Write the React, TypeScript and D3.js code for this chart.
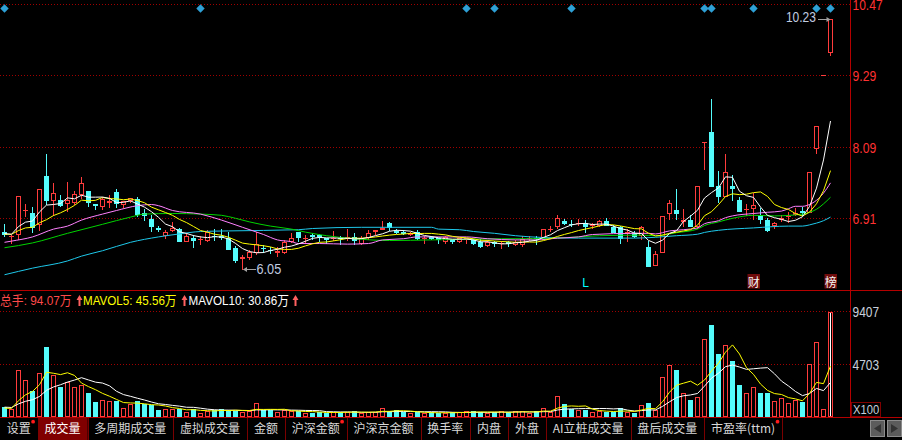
import React, { useEffect } from 'react';
import * as d3 from 'd3';

// ---------- data ----------
const opens = [
  6.69, 6.60, 6.63, 7.03, 7.00, 6.80, 7.62, 7.20, 7.22, 7.15,
  7.17, 7.30, 7.37, 7.15, 7.10, 7.17, 7.34, 7.13, 7.20, 7.23,
  6.99, 6.90, 6.75, 6.62, 6.70, 6.74, 6.52, 6.59, 6.55, 6.53,
  6.62, 6.61, 6.59, 6.42, 6.24, 6.25, 6.33, 6.42, 6.38, 6.34,
  6.33, 6.52, 6.68, 6.58, 6.64, 6.64, 6.58, 6.57, 6.59, 6.58,
  6.60, 6.49, 6.59, 6.68, 6.72, 6.84, 6.70, 6.69, 6.63, 6.68,
  6.57, 6.60, 6.58, 6.52, 6.55, 6.51, 6.57, 6.55, 6.52, 6.45,
  6.52, 6.49, 6.52, 6.47, 6.47, 6.57, 6.58, 6.59, 6.73, 6.77,
  6.87, 6.82, 6.82, 6.84, 6.78, 6.78, 6.87, 6.77, 6.77, 6.65,
  6.66, 6.62, 6.44, 6.12, 6.33, 6.98, 7.05, 6.85, 6.89, 6.77,
  8.18, 8.35, 7.45, 7.27, 7.45, 7.22, 7.05, 7.07, 6.97, 6.89,
  6.78, 6.88, 6.93, 6.97, 7.03, 6.99, 8.06, 9.30, 9.67,
];
const highs = [
  6.82, 6.63, 7.28, 7.15, 7.10, 7.40, 7.98, 7.50, 7.30, 7.52,
  7.37, 7.60, 7.37, 7.15, 7.27, 7.30, 7.40, 7.20, 7.25, 7.26,
  7.06, 6.97, 6.79, 6.72, 6.85, 6.75, 6.66, 6.63, 6.62, 6.72,
  6.74, 6.74, 6.69, 6.45, 6.30, 6.39, 6.69, 6.46, 6.44, 6.44,
  6.55, 6.66, 6.69, 6.63, 6.66, 6.65, 6.59, 6.70, 6.62, 6.73,
  6.66, 6.62, 6.72, 6.72, 6.87, 6.85, 6.74, 6.72, 6.69, 6.72,
  6.62, 6.61, 6.59, 6.61, 6.56, 6.59, 6.59, 6.57, 6.56, 6.55,
  6.54, 6.54, 6.54, 6.55, 6.62, 6.62, 6.62, 6.74, 6.78, 6.97,
  6.90, 6.88, 6.90, 6.88, 6.83, 6.88, 6.92, 6.80, 6.78, 6.73,
  6.70, 6.79, 6.53, 6.37, 6.95, 7.21, 7.39, 7.06, 6.97, 7.44,
  8.18, 8.90, 7.70, 7.98, 7.63, 7.27, 7.14, 7.33, 7.08, 6.91,
  6.85, 6.97, 7.02, 7.08, 7.09, 7.68, 8.45, 9.30, 10.23,
];
const lows = [
  6.60, 6.50, 6.55, 6.94, 6.67, 6.70, 7.13, 6.94, 7.10, 7.02,
  7.13, 7.23, 7.10, 7.05, 7.05, 7.08, 7.08, 7.08, 7.17, 6.93,
  6.87, 6.69, 6.69, 6.57, 6.69, 6.51, 6.51, 6.42, 6.49, 6.51,
  6.55, 6.55, 6.38, 6.16, 6.05, 6.22, 6.30, 6.35, 6.33, 6.27,
  6.32, 6.50, 6.52, 6.52, 6.55, 6.52, 6.49, 6.55, 6.49, 6.55,
  6.47, 6.47, 6.55, 6.64, 6.71, 6.70, 6.65, 6.64, 6.62, 6.55,
  6.50, 6.55, 6.49, 6.48, 6.48, 6.50, 6.50, 6.47, 6.42, 6.43,
  6.43, 6.41, 6.44, 6.45, 6.44, 6.55, 6.49, 6.56, 6.70, 6.74,
  6.80, 6.79, 6.80, 6.66, 6.73, 6.77, 6.78, 6.66, 6.49, 6.52,
  6.59, 6.55, 6.10, 6.12, 6.33, 6.88, 6.89, 6.77, 6.76, 6.74,
  7.73, 7.43, 7.17, 7.26, 7.19, 7.01, 6.97, 6.88, 6.82, 6.69,
  6.73, 6.85, 6.85, 6.94, 6.94, 6.99, 7.98, 9.30, 9.61,
];
const closes = [
  6.63, 6.62, 7.28, 7.04, 6.75, 7.39, 7.19, 7.33, 7.12, 7.22,
  7.31, 7.49, 7.17, 7.12, 7.23, 7.20, 7.14, 7.19, 7.24, 6.97,
  6.94, 6.76, 6.72, 6.68, 6.75, 6.52, 6.62, 6.54, 6.57, 6.69,
  6.60, 6.59, 6.38, 6.20, 6.26, 6.35, 6.49, 6.40, 6.37, 6.36,
  6.52, 6.59, 6.58, 6.59, 6.60, 6.60, 6.55, 6.58, 6.56, 6.60,
  6.54, 6.58, 6.67, 6.72, 6.75, 6.75, 6.66, 6.65, 6.67, 6.56,
  6.58, 6.57, 6.55, 6.60, 6.51, 6.58, 6.58, 6.48, 6.44, 6.52,
  6.48, 6.50, 6.49, 6.52, 6.56, 6.58, 6.57, 6.73, 6.74, 6.91,
  6.82, 6.80, 6.83, 6.77, 6.81, 6.86, 6.79, 6.67, 6.56, 6.69,
  6.60, 6.76, 6.10, 6.32, 6.95, 7.16, 6.98, 6.88, 6.76, 7.44,
  8.18, 7.43, 7.27, 7.68, 7.40, 7.02, 7.06, 7.13, 6.88, 6.70,
  6.83, 6.92, 6.95, 6.99, 6.99, 7.68, 8.45, 9.30, 10.23,
];
// volume in units of 100 hands
const volumes = [
  912, 706, 4194, 3300, 2316, 3899, 6277, 3747, 2700, 3148,
  2700, 2852, 2164, 1332, 1511, 1422, 1422, 769, 1153, 1422,
  1127, 1037, 617, 706, 706, 733, 438, 706, 376, 554,
  617, 706, 617, 554, 465, 554, 1216, 590, 590, 438,
  617, 527, 500, 376, 376, 438, 349, 465, 411, 465,
  500, 322, 465, 465, 769, 500, 590, 465, 322, 438,
  322, 411, 376, 376, 411, 411, 500, 527, 411, 376,
  411, 500, 411, 500, 500, 376, 500, 769, 465, 1842,
  1153, 706, 617, 617, 411, 527, 438, 465, 769, 465,
  349, 1064, 1216, 617, 3541, 4641, 4194, 2110, 1511, 1753,
  6939, 8218, 5624, 6429, 4999, 2852, 2110, 2647, 2110, 2150,
  1450, 1700, 1250, 1535, 1305, 4700, 6660, 706, 9407,
];
// sessions just before the visible window (estimated from the starting MA levels)
const priorCloses = [6.62, 6.66, 6.60, 6.65, 6.63, 6.68, 6.64, 6.67, 6.66];
const priorVolumes = [1000, 950, 1050, 900, 950, 800, 760, 700, 780];

// longer moving averages: [bar index, price]
const ma20Points: [number, number][] = [
  [0, 6.51], [1, 6.53], [4, 6.60], [7, 6.73], [9, 6.78], [11, 6.88], [14, 6.98], [16, 7.04],
  [19, 7.12], [21, 7.14], [22, 7.12], [24, 7.04], [28, 6.98], [31, 6.88], [34, 6.76], [37, 6.64],
  [39, 6.55], [41, 6.52], [42, 6.49], [45, 6.49], [49, 6.48], [52, 6.49], [54, 6.55], [57, 6.57],
  [59, 6.60], [63, 6.60], [66, 6.60], [69, 6.57], [73, 6.55], [76, 6.55], [79, 6.58], [82, 6.60],
  [84, 6.64], [90, 6.66], [92, 6.66], [93, 6.65], [95, 6.70], [97, 6.72], [99, 6.75], [100, 6.82],
  [102, 6.87], [103, 6.92], [104, 6.95], [107, 6.99], [109, 7.01], [111, 7.03], [112, 7.07],
  [113, 7.11], [114, 7.11], [115, 7.14], [116, 7.21], [117, 7.33], [118, 7.50],
];
const ma30Points: [number, number][] = [
  [0, 6.42], [4, 6.50], [9, 6.66], [14, 6.81], [18, 6.93], [20, 6.98], [24, 6.99], [28, 6.98],
  [31, 6.96], [33, 6.91], [35, 6.85], [38, 6.78], [41, 6.73], [43, 6.68], [46, 6.62], [50, 6.57],
  [55, 6.54], [61, 6.55], [66, 6.56], [71, 6.57], [75, 6.57], [82, 6.60], [85, 6.62], [91, 6.63],
  [93, 6.62], [96, 6.67], [99, 6.73], [100, 6.79], [102, 6.85], [104, 6.91], [107, 6.96],
  [110, 6.95], [114, 6.98], [115, 7.01], [116, 7.06], [117, 7.15], [118, 7.26],
];
const ma60Points: [number, number][] = [
  [0, 5.97], [4, 6.08], [9, 6.20], [11, 6.28], [14, 6.37], [18, 6.51], [22, 6.60], [25, 6.65],
  [28, 6.69], [32, 6.70], [42, 6.72], [44, 6.74], [51, 6.76], [61, 6.76], [62, 6.73], [65, 6.72],
  [67, 6.69], [70, 6.66], [73, 6.62], [77, 6.59], [82, 6.58], [90, 6.58], [96, 6.62], [99, 6.645],
  [100, 6.675], [102, 6.71], [107, 6.75], [112, 6.78], [114, 6.78], [115, 6.80], [116, 6.83],
  [117, 6.87], [118, 6.93],
];

const eventBars = [0, 28, 66, 70, 81, 100, 101, 107, 116, 118];
const priceTicks = [10.47, 9.29, 8.09, 6.91];
const volTicks = [9407, 4703];
const volUnit = 'X100';
const lowNote = { bar: 34, text: '6.05' };
const highNote = { bar: 118, text: '10.23' };
const barMarks = [
  { bar: 83, text: 'L', boxed: false },
  { bar: 107, text: '财', boxed: true },
  { bar: 118, text: '榜', boxed: true },
];
const volTitle = [
  { text: '总手: 94.07万', color: '#ff4a4a' },
  { text: 'MAVOL5: 45.56万', color: '#ffff00' },
  { text: 'MAVOL10: 30.86万', color: '#ffffff' },
];
const tabLabels = ['设置', '成交量', '多周期成交量', '虚拟成交量', '金额', '沪深金额', '沪深京金额', '换手率', '内盘', '外盘', 'AI立桩成交量', '盘后成交量', '市盈率(ttm)'];
const tabDots = ['设置', '沪深金额', '市盈率(ttm)'];
const selectedTab = '成交量';

// ---------- styling ----------
const RED = '#ff3c3c';
const CYAN = '#54fcfc';
const AXIS = '#b40000';
const GRID = '#a00000';
const NUM_FONT = "'Liberation Sans Narrow', 'Liberation Sans', Arial, sans-serif";
const CJK_FONT = "'Noto Sans CJK SC', sans-serif";

function numLen(s: string) {
  let w = 0;
  for (const ch of s) w += /[0-9]/.test(ch) ? 6.4 : ch === '.' ? 4.5 : 7;
  return w;
}

let measureCtx: any = null;
function measure(s: string, font: string) {
  if (!measureCtx) measureCtx = document.createElement('canvas').getContext('2d');
  measureCtx.font = font;
  return measureCtx.measureText(s).width;
}

function movingAvg(values: number[], prior: number[], n: number) {
  const all = prior.concat(values);
  return values.map((_, i) => d3.mean(all.slice(prior.length + i - n + 1, prior.length + i + 1)) as number);
}

function isUp(i: number) {
  const o = opens[i], c = closes[i];
  const prev = i > 0 ? closes[i - 1] : priorCloses[priorCloses.length - 1];
  return c > o || (c === o && c >= prev);
}

export default function App() {
  useEffect(() => {
    document.body.style.margin = '0';
    document.body.style.background = '#000';
  }, []);

  const N = closes.length;
  const x = d3.scaleBand<number>().domain(d3.range(N)).range([1.3, 834.3]).paddingInner(2 / 7).paddingOuter(1 / 7);
  const left = (i: number) => Math.round(x(i) as number);
  const cxOf = (i: number) => left(i) + 2.5;
  const yP = d3.scaleLinear().domain([6.91, 10.47]).range([218.3, 4.5]);
  const yV = d3.scaleLinear().domain([0, 9407]).range([417, 311.7]);

  const ma5 = movingAvg(closes, priorCloses, 5);
  const ma10 = movingAvg(closes, priorCloses, 10);
  const mv5 = movingAvg(volumes, priorVolumes, 5);
  const mv10 = movingAvg(volumes, priorVolumes, 10);

  const seriesLine = d3.line<number>().x((_, i) => cxOf(i)).y(d => yP(d));
  const volLine = d3.line<number>().x((_, i) => cxOf(i)).y(d => yV(d));
  const knotLine = d3.line<[number, number]>().x(d => cxOf(d[0])).y(d => yP(d[1])).curve(d3.curveMonotoneX);

  // candles
  const candles = closes.map((c, i) => {
    const o = opens[i], h = highs[i], l = lows[i];
    const col = isUp(i) ? RED : CYAN;
    const L = left(i), X = L + 2.5;
    const yo = Math.round(yP(o)), yc = Math.round(yP(c));
    const yh = Math.round(yP(h)), yl = Math.round(yP(l));
    const top = Math.min(yo, yc), bot = Math.max(yo, yc);
    if (bot - top < 2) {
      return (
        <g key={i}>
          {yl > yh && <line x1={X} x2={X} y1={yh} y2={yl + 1} stroke={col} />}
          <line x1={L} x2={L + 5} y1={top + 0.5} y2={top + 0.5} stroke={col} />
        </g>
      );
    }
    if (isUp(i)) {
      return (
        <g key={i}>
          {top > yh && <line x1={X} x2={X} y1={yh} y2={top} stroke={col} />}
          {yl > bot && <line x1={X} x2={X} y1={bot} y2={yl} stroke={col} />}
          <rect x={L + 0.5} y={top + 0.5} width={4} height={bot - top - 1} fill="#000" stroke={col} />
        </g>
      );
    }
    return (
      <g key={i}>
        <line x1={X} x2={X} y1={yh} y2={yl} stroke={col} />
        <rect x={L} y={top} width={5} height={bot - top} fill={col} />
      </g>
    );
  });

  // volume bars
  const vbars = volumes.map((v, i) => {
    const L = left(i);
    const top = Math.round(yV(v));
    if (isUp(i)) {
      return <rect key={i} x={L + 0.5} y={top + 0.5} width={4} height={Math.max(0, 417 - top - 1)} fill="#000" stroke={RED} />;
    }
    return <rect key={i} x={L} y={top} width={5} height={417 - top} fill={CYAN} />;
  });
  const lastI = N - 1;

  // tabs layout
  const tabFont = `12px ${CJK_FONT}`;
  let pos = 0;
  const tabs = tabLabels.map(label => {
    const w = measure(label, tabFont) + 13.8;
    const cell = { label, x0: pos, x1: pos + w };
    pos += w;
    return cell;
  });

  // notes
  const lowX = cxOf(lowNote.bar), lowY = yP(lows[lowNote.bar]);
  const highX = cxOf(highNote.bar), highY = Math.round(yP(highs[highNote.bar])) + 0.5;

  // title layout
  const titleStarts = [0, 83, 188.5];
  const titleLens = [71.7, 93.5, 100.5];
  const arrowXs = [79.5, 184.5, 295.5];

  return (
    <svg width={902} height={440} style={{ position: 'absolute', left: 0, top: 0, display: 'block', background: '#000' }}>
      <rect x={0} y={0} width={902} height={440} fill="#000" />

      {/* price grid */}
      {priceTicks.map(t => {
        const gy = Math.floor(yP(t)) + 0.5;
        return (
          <g key={t}>
            <line x1={0} x2={850} y1={gy} y2={gy} stroke={GRID} strokeDasharray="1 2" />
            <text x={852.5} y={gy + 5.2} fill="#ff3232" fontFamily={NUM_FONT} fontSize={14}
              textLength={numLen(t.toFixed(2))} lengthAdjust="spacingAndGlyphs">{t.toFixed(2)}</text>
          </g>
        );
      })}

      {/* event diamonds */}
      {eventBars.map(b => {
        const c = cxOf(b);
        return <path key={b} d={`M${c},4.3 L${c + 4.2},8.5 L${c},12.7 L${c - 4.2},8.5 Z`} fill="#2ea0d6" />;
      })}

      {/* candles */}
      <g shapeRendering="crispEdges">{candles}</g>

      {/* moving averages */}
      <path d={knotLine(ma60Points) || ''} fill="none" stroke="#1ec8ea" strokeWidth={1} />
      <path d={knotLine(ma30Points) || ''} fill="none" stroke="#00d400" strokeWidth={1} />
      <path d={knotLine(ma20Points) || ''} fill="none" stroke="#ff80ff" strokeWidth={1} />
      <path d={seriesLine(ma10) || ''} fill="none" stroke="#ffff00" strokeWidth={1} />
      <path d={seriesLine(ma5) || ''} fill="none" stroke="#ffffff" strokeWidth={1} />

      {/* low / high notes */}
      <line x1={256} x2={lowX + 1} y1={Math.round(lowY) - 0.5} y2={Math.round(lowY) - 0.5} stroke="#a0a0a0" />
      <path d={`M${lowX + 0.5},${Math.round(lowY) - 0.5} l4,-2.5 l0,5 Z`} fill="#a0a0a0" />
      <text x={256.5} y={274} fill="#c0cce0" fontFamily={NUM_FONT} fontSize={15}
        textLength={numLen(lowNote.text) + 1} lengthAdjust="spacingAndGlyphs">{lowNote.text}</text>
      <line x1={818} x2={highX - 1} y1={highY} y2={highY} stroke="#a0a0a0" />
      <path d={`M${highX},${highY} l-4,-2.5 l0,5 Z`} fill="#a0a0a0" />
      <text x={816} y={21.7} textAnchor="end" fill="#c0cce0" fontFamily={NUM_FONT} fontSize={14}
        textLength={numLen(highNote.text)} lengthAdjust="spacingAndGlyphs">{highNote.text}</text>

      {/* bar marks */}
      {barMarks.map(m => {
        const c = cxOf(m.bar);
        if (!m.boxed) {
          return <text key={m.text} x={c} y={287} textAnchor="middle" fill="#00ffff" fontFamily="'Liberation Sans', Arial, sans-serif" fontSize={12}>{m.text}</text>;
        }
        return (
          <g key={m.text}>
            <rect x={c - 6} y={274} width={12.5} height={14.5} fill="#700c0c" />
            <text x={c + 0.2} y={286.5} textAnchor="middle" fill="#f4f4f4" fontFamily={CJK_FONT} fontSize={12}>{m.text}</text>
          </g>
        );
      })}

      {/* frame lines */}
      <line x1={0} x2={902} y1={290.5} y2={290.5} stroke={AXIS} />
      <line x1={850.5} x2={850.5} y1={0} y2={417} stroke={AXIS} />

      {/* volume panel title */}
      {volTitle.map((t, k) => (
        <text key={k} x={titleStarts[k]} y={305} fill={t.color} fontFamily={`'Liberation Sans', ${CJK_FONT}`} fontSize={13}
          textLength={titleLens[k]} lengthAdjust="spacingAndGlyphs">{t.text}</text>
      ))}
      {arrowXs.map(ax => (
        <path key={ax} d={`M${ax},295 L${ax + 3},300 L${ax + 1},300 L${ax + 1},306 L${ax - 1},306 L${ax - 1},300 L${ax - 3},300 Z`} fill="#ff6060" />
      ))}

      {/* volume grid */}
      {volTicks.map(t => {
        const gy = Math.floor(yV(t)) + 0.5;
        return (
          <g key={t}>
            <line x1={0} x2={850} y1={gy} y2={gy} stroke={GRID} strokeDasharray="1 2" />
            <text x={852.5} y={gy + 5.2} fill="#c8d0dc" fontFamily={NUM_FONT} fontSize={14}
              textLength={numLen(String(t)) + 1} lengthAdjust="spacingAndGlyphs">{t}</text>
          </g>
        );
      })}
      <rect x={851.5} y={402.5} width={29} height={14} fill="none" stroke="#800000" />
      <text x={853} y={414} fill="#c8d0dc" fontFamily={NUM_FONT} fontSize={13}
        textLength={numLen(volUnit)} lengthAdjust="spacingAndGlyphs">{volUnit}</text>

      {/* volume bars */}
      <g shapeRendering="crispEdges">{vbars}</g>
      <line x1={cxOf(lastI)} x2={cxOf(lastI)} y1={Math.round(yV(volumes[lastI])) + 1} y2={416} stroke="#ffffff" shapeRendering="crispEdges" />
      <path d={volLine(mv10) || ''} fill="none" stroke="#ffffff" strokeWidth={1} />
      <path d={volLine(mv5) || ''} fill="none" stroke="#ffff00" strokeWidth={1} />

      {/* tab bar */}
      <line x1={0} x2={902} y1={417.5} y2={417.5} stroke={AXIS} />
      {tabs.map(t => {
        const sel = t.label === selectedTab;
        return (
          <g key={t.label}>
            {sel && <rect x={t.x0 + 0.5} y={418} width={t.x1 - t.x0 - 0.5} height={22} fill="#800000" />}
            <text x={t.x0 + 6.7} y={432.5} fill={sel ? '#ffffff' : '#d8d8d8'} fontFamily={CJK_FONT} fontSize={12}>{t.label}</text>
            {tabDots.includes(t.label) && <circle cx={t.x1 - 4.7} cy={421.7} r={1.9} fill="#ff1a1a" />}
            <line x1={Math.round(t.x1) + 0.5} x2={Math.round(t.x1) + 0.5} y1={418} y2={440} stroke="#7a0000" />
          </g>
        );
      })}
      <rect x={870.5} y={420.5} width={14} height={16} fill="#5c5c5c" stroke="#8c8c8c" />
      <path d="M874,428.5 L881,424 L881,433 Z" fill="#333" />
      <rect x={887.5} y={420.5} width={14} height={16} fill="#5c5c5c" stroke="#8c8c8c" />
      <path d="M898,428.5 L891,424 L891,433 Z" fill="#333" />
    </svg>
  );
}
